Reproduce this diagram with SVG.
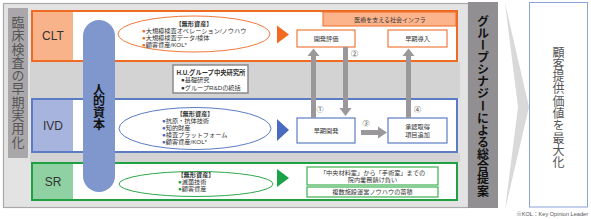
<svg xmlns="http://www.w3.org/2000/svg" width="591" height="219" viewBox="0 0 591 219">
<defs>
<style>
text{font-family:"Noto Sans CJK JP","Noto Sans",sans-serif;fill:#333}
.vt{writing-mode:vertical-rl;text-orientation:upright}
.sm{font-size:6.2px;font-family:"Liberation Sans","Noto Sans CJK JP",sans-serif}
.b{font-weight:bold}
.arr{fill:#9b989c}
.num{font-size:7px;fill:#333}
.box{fill:#fff;stroke-width:1.2}
</style>
</defs>
<rect x="0" y="0" width="591" height="219" fill="#fff"/>
<g id="frame">
<rect x="3.5" y="3.5" width="465" height="204" fill="#e3e3e3" stroke="#a9a9a9" stroke-width="1.2"/>
<rect x="30" y="62" width="430" height="36" fill="#d3d3d3"/>
<rect x="30" y="153" width="430" height="9" fill="#d3d3d3"/>
</g>
<g id="left-label">
<rect x="8" y="8" width="20" height="150" fill="#aaa7aa"/>
<text class="vt" x="18" y="15.5" style="font-size:13px;letter-spacing:0.3px;fill:#555">臨床検査の早期実用化</text>
</g>
<g id="clt">
<rect x="32" y="11" width="425" height="50" fill="#fff" stroke="#ef6a22" stroke-width="2"/>
<rect x="33" y="12" width="40" height="48" fill="#f9b38b"/>
<text x="53" y="40" text-anchor="middle" style="font-size:12px;font-family:'Liberation Sans',sans-serif">CLT</text>
<rect x="323" y="12" width="133" height="14" fill="#fbb48b" stroke="#ef6a22" stroke-width="1"/>
<text x="390" y="21.5" text-anchor="middle" class="sm" style="font-size:6px">医療を支える社会インフラ</text>
<ellipse cx="194" cy="34" rx="76" ry="18" fill="#fff" stroke="#f07a3c" stroke-width="1"/>
<text x="194" y="25.5" text-anchor="middle" class="sm b">【無形資産】</text>
<text x="142" y="32.5" class="sm"><tspan fill="#ef6a22">●</tspan>大規模検査オペレーション/ノウハウ</text>
<text x="142" y="39.5" class="sm"><tspan fill="#ef6a22">●</tspan>大規模検査データ/検体</text>
<text x="142" y="46.5" class="sm"><tspan fill="#ef6a22">●</tspan>顧客資産/KOL*</text>
<polygon points="277,25.5 289,34.5 277,43.5" fill="#f26b21"/>
</g>
<g id="clt-eval">
<rect x="297" y="30" width="58" height="17" class="box" stroke="#f07a3c"/>
<text x="326" y="40.8" text-anchor="middle" class="sm">開発評価</text>
</g>
<g id="clt-intro">
<rect x="388" y="30" width="59" height="17" class="box" stroke="#f07a3c"/>
<text x="417.5" y="40.8" text-anchor="middle" class="sm">早期導入</text>
</g>
<g id="ivd">
<rect x="32" y="99" width="425" height="53" fill="#fff" stroke="#5b7cc4" stroke-width="2"/>
<rect x="33" y="100" width="40" height="51" fill="#a6b4de"/>
<text x="53" y="130" text-anchor="middle" style="font-size:12px;font-family:'Liberation Sans',sans-serif">IVD</text>
<ellipse cx="195" cy="128.5" rx="76" ry="21" fill="#fff" stroke="#5b7cc4" stroke-width="1"/>
<text x="195" y="116" text-anchor="middle" class="sm b">【無形資産】</text>
<text x="162" y="123" class="sm"><tspan fill="#4a6bbf">●</tspan>抗原・抗体技術</text>
<text x="162" y="130" class="sm"><tspan fill="#4a6bbf">●</tspan>知的財産</text>
<text x="162" y="137" class="sm"><tspan fill="#4a6bbf">●</tspan>検査プラットフォーム</text>
<text x="162" y="144" class="sm"><tspan fill="#4a6bbf">●</tspan>顧客資産/KOL*</text>
<polygon points="277,119 289,130 277,141" fill="#4a6bbf"/>
</g>
<g id="ivd-dev">
<rect x="297" y="118" width="58" height="25" class="box" stroke="#5b7cc4"/>
<text x="326" y="132.8" text-anchor="middle" class="sm">早期開発</text>
</g>
<g id="ivd-approve">
<rect x="388" y="118" width="59" height="25" class="box" stroke="#5b7cc4"/>
<text x="417.5" y="129" text-anchor="middle" class="sm">承認取得</text>
<text x="417.5" y="137" text-anchor="middle" class="sm">項目追加</text>
</g>
<g id="sr">
<rect x="32" y="163" width="425" height="37" fill="#fff" stroke="#1fa043" stroke-width="2"/>
<rect x="33" y="164" width="40" height="35" fill="#8fd1a2"/>
<text x="53" y="186" text-anchor="middle" style="font-size:12px;font-family:'Liberation Sans',sans-serif">SR</text>
<ellipse cx="196" cy="184" rx="77" ry="12.5" fill="#fff" stroke="#2ea84a" stroke-width="1"/>
<text x="196" y="176.5" text-anchor="middle" class="sm b">【無形資産】</text>
<text x="178" y="183.5" class="sm"><tspan fill="#1fa043">●</tspan>滅菌技術</text>
<text x="178" y="190.5" class="sm"><tspan fill="#1fa043">●</tspan>顧客資産</text>
<polygon points="277,169 289,178 277,187" fill="#1ba34a"/>
</g>
<g id="sr-1">
<rect x="307" y="167" width="131" height="18" class="box" stroke="#3cb04f"/>
<text x="372.5" y="174.5" text-anchor="middle" class="sm">「中央材料室」から「手術室」までの</text>
<text x="372.5" y="182" text-anchor="middle" class="sm">院内業務請け負い</text>
</g>
<g id="sr-2">
<rect x="307" y="187" width="131" height="10" class="box" stroke="#3cb04f"/>
<text x="372.5" y="194.3" text-anchor="middle" class="sm">複数施設運営ノウハウの蓄積</text>
</g>
<g id="human-capital">
<rect x="83" y="20" width="32" height="172" rx="16" fill="#7f97cc"/>
<text class="vt b" x="99" y="83" style="font-size:12px;letter-spacing:-0.3px;fill:#111">人的資本</text>
</g>
<g id="hu-lab">
<rect x="173" y="65" width="75" height="28" fill="#fff" stroke="#8a8a8a" stroke-width="1.5"/>
<text x="176.5" y="74.5" class="sm b" style="font-size:6.3px">H.U.グループ中央研究所</text>
<text x="181" y="82" class="sm">●基礎研究</text>
<text x="181" y="89.5" class="sm">●グループR&amp;Dの統括</text>
</g>
<g id="connectors">
<polygon class="arr" points="311,118 311,56 307.5,56 313.5,48.5 319.5,56 316,56 316,118"/>
<polygon class="arr" points="343,47 343,108 339.5,108 345.5,116 351.5,108 348,108 348,47"/>
<polygon class="arr" points="361,130 378,130 378,126.5 387,132.5 378,138.5 378,135 361,135"/>
<polygon class="arr" points="406,118 406,56 402.5,56 408.5,48.5 414.5,56 411,56 411,118"/>
<text x="320" y="112" class="num" text-anchor="middle">①</text>
<text x="354.5" y="55.5" class="num" text-anchor="middle">②</text>
<text x="366" y="125.5" class="num" text-anchor="middle">③</text>
<text x="417.5" y="112" class="num" text-anchor="middle">④</text>
</g>
<g id="synergy">
<rect x="468" y="2" width="30" height="206" fill="#928f93"/>
<text class="vt b" x="483" y="15" style="font-size:12px;letter-spacing:0.14px;fill:#111">グループシナジーによる総合提案</text>
</g>
<g id="chevron">
<polygon points="505,3 529,107 505,210 518,107" fill="#d9d9d9"/>
</g>
<g id="value">
<rect x="529.5" y="2.5" width="58" height="204.5" fill="#fff" stroke="#8aa4d6" stroke-width="1"/>
<text class="vt" x="558.5" y="46" style="font-size:12px;letter-spacing:0.3px;fill:#555">顧客提供価値を最大化</text>
</g>
<text x="588" y="215.5" text-anchor="end" style="font-size:5.6px;fill:#555;font-family:'Liberation Sans','Noto Sans CJK JP',sans-serif">※KOL：Key Opinion Leader</text>
</svg>
